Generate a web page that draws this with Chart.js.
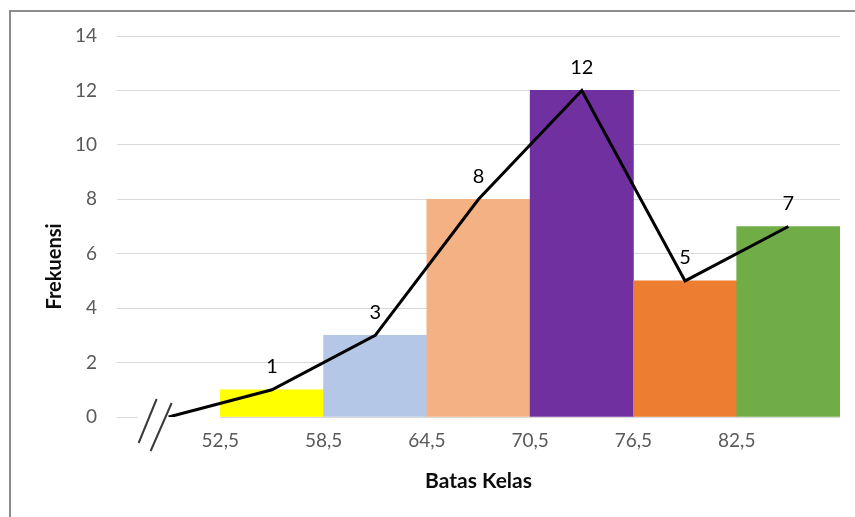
<!DOCTYPE html>
<html>
<head>
<meta charset="utf-8">
<script src="https://cdn.jsdelivr.net/npm/chart.js@4/dist/chart.umd.min.js"></script>
<style>
  html, body { margin: 0; padding: 0; background: #fff; }
  #wrap { position: relative; width: 855px; height: 517px; overflow: hidden; }
  #frame { position: absolute; left: 9px; top: 10px; width: 900px; height: 600px;
           border-top: 2px solid #8c8c8c; border-left: 2px solid #8c8c8c; pointer-events: none; }
  canvas { position: absolute; left: 0; top: 0; }
</style>
</head>
<body>
<div id="wrap">
  <canvas id="chart" width="855" height="517"></canvas>
  <div id="frame"></div>
</div>
<script>
// Class boundaries (tick positions) and their printed labels
const classBoundaries = [52.5, 58.5, 64.5, 70.5, 76.5, 82.5];
const boundaryLabels = ['52,5', '58,5', '64,5', '70,5', '76,5', '82,5'];

// Class midpoints and frequencies (histogram bars)
const classMidpoints = [55.5, 61.5, 67.5, 73.5, 79.5, 85.5];
const frequencies = [1, 3, 8, 12, 5, 7];
const barColors = ['#FFFF00', '#B4C7E7', '#F4B183', '#7030A0', '#ED7D31', '#70AD47'];

// Frequency polygon: starts at zero one class before the first bar
const polygonX = [49.5, 55.5, 61.5, 67.5, 73.5, 79.5, 85.5];
const polygonY = [0, 1, 3, 8, 12, 5, 7];

// Axis ranges
const xMin = 46.5, xMax = 88.5;
const yMin = 0, yMax = 14, yStep = 2;

const FONT = 'Lato, "Open Sans", "DejaVu Sans", sans-serif';

// Axis break "//" drawn at the start of the polygon, plus a gap in the zero gridline
const axisBreak = {
  id: 'axisBreak',
  beforeDatasetsDraw(chart) {
    const {ctx, scales: {x, y}} = chart;
    const x0 = x.getPixelForValue(polygonX[0]);
    const y0 = y.getPixelForValue(0);
    const xEnd = x.getPixelForValue(classBoundaries[0]);
    ctx.save();
    ctx.fillStyle = '#ffffff';
    ctx.fillRect(x0 - 31, y0 - 2, xEnd - (x0 - 31), 4);
    ctx.restore();
  },
  afterDraw(chart) {
    const {ctx, scales: {x, y}} = chart;
    const x0 = x.getPixelForValue(polygonX[0]);
    const y0 = y.getPixelForValue(0);
    ctx.save();
    ctx.strokeStyle = '#3a3a3a';
    ctx.lineWidth = 2;
    ctx.beginPath();
    ctx.moveTo(x0 - 30, y0 + 26);
    ctx.lineTo(x0 - 12, y0 - 18);
    ctx.moveTo(x0 - 18, y0 + 34);
    ctx.lineTo(x0 + 3, y0 - 14);
    ctx.stroke();
    ctx.restore();
  }
};

// Value labels above the polygon vertices and the vertical axis title
const labelsAndTitle = {
  id: 'labelsAndTitle',
  afterDatasetsDraw(chart) {
    const {ctx, chartArea} = chart;
    const meta = chart.getDatasetMeta(1);
    ctx.save();
    ctx.fillStyle = '#000000';
    ctx.font = '20px ' + FONT;
    ctx.textAlign = 'center';
    ctx.textBaseline = 'middle';
    meta.data.forEach((pt, i) => {
      if (polygonY[i] === 0) return;
      ctx.fillText(String(polygonY[i]), pt.x, pt.y - 23);
    });
    // y-axis title
    ctx.font = 'bold 20px ' + FONT;
    ctx.translate(chartArea.left - 62, (chartArea.top + chartArea.bottom) / 2 + 40);
    ctx.rotate(-Math.PI / 2);
    ctx.fillStyle = '#0d0d0d';
    ctx.fillText('Frekuensi', 0, 0);
    ctx.restore();
  }
};

new Chart(document.getElementById('chart'), {
  type: 'bar',
  data: {
    datasets: [
      {
        type: 'bar',
        label: 'Frekuensi',
        data: classMidpoints.map((m, i) => ({x: m, y: frequencies[i]})),
        backgroundColor: barColors,
        borderWidth: 0,
        barPercentage: 1.0,
        categoryPercentage: 1.0,
        order: 2
      },
      {
        type: 'line',
        label: 'Poligon',
        data: polygonX.map((m, i) => ({x: m, y: polygonY[i]})),
        borderColor: '#000000',
        borderWidth: 3,
        pointRadius: 0,
        tension: 0,
        fill: false,
        order: 1
      }
    ]
  },
  options: {
    responsive: false,
    animation: false,
    layout: { padding: { top: 36, right: 15, left: 0, bottom: 0 } },
    plugins: {
      legend: { display: false },
      tooltip: { enabled: false }
    },
    scales: {
      x: {
        type: 'linear',
        min: xMin,
        max: xMax,
        offset: false,
        grid: { display: false, drawTicks: false, offset: false },
        border: { display: false },
        afterBuildTicks(scale) {
          scale.ticks = classBoundaries.map(v => ({value: v}));
        },
        afterFit(scale) { scale.height = 100; },
        ticks: {
          autoSkip: false,
          maxRotation: 0,
          padding: 12,
          color: '#595959',
          font: { family: FONT, size: 19 },
          callback: (v, i) => boundaryLabels[i]
        },
        title: {
          display: true,
          text: 'Batas Kelas',
          color: '#0d0d0d',
          font: { family: FONT, size: 21, weight: 'bold' },
          padding: { top: 0, bottom: 23 }
        }
      },
      y: {
        min: yMin,
        max: yMax,
        grid: { color: '#d9d9d9', lineWidth: 1, drawTicks: false },
        border: { display: false },
        afterFit(scale) { scale.width = 117; },
        ticks: {
          stepSize: yStep,
          padding: 20,
          color: '#595959',
          font: { family: FONT, size: 19 }
        }
      }
    }
  },
  plugins: [axisBreak, labelsAndTitle]
});
</script>
</body>
</html>
